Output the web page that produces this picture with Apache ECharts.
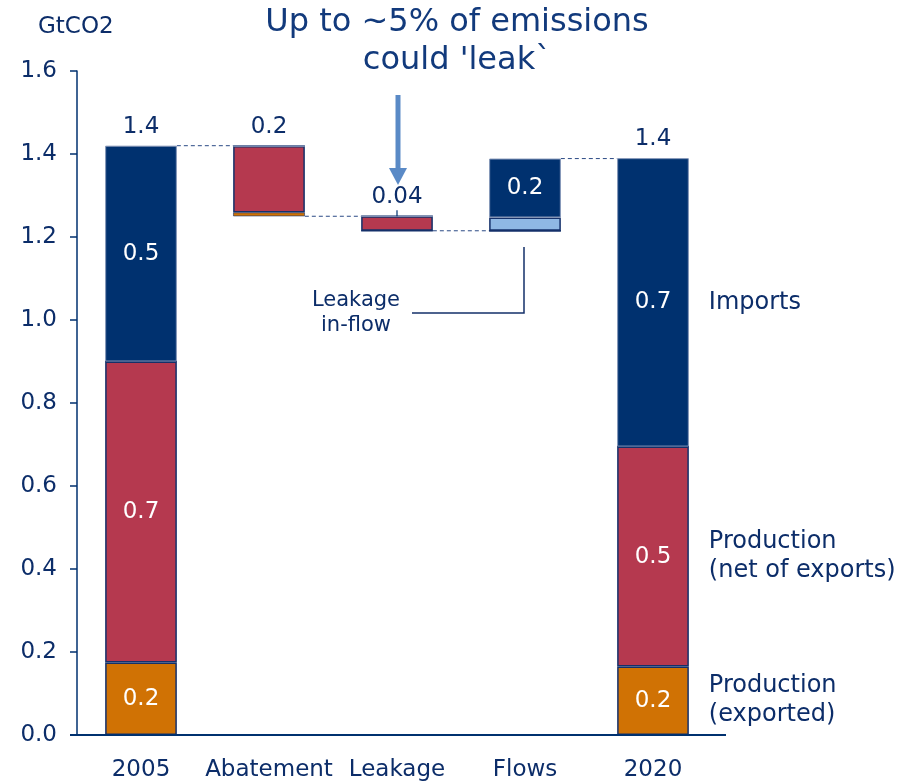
<!DOCTYPE html>
<html>
<head>
<meta charset="utf-8">
<script src="https://cdn.jsdelivr.net/npm/echarts@6/dist/echarts.min.js"></script>
<style>
  html, body { margin: 0; padding: 0; background: #ffffff; }
  #chart { width: 908px; height: 784px; }
</style>
</head>
<body>
<div id="chart"></div>
<script>
// Emissions bridge 2005 -> 2020, GtCO2
const categories = ['2005', 'Abatement', 'Leakage', 'Flows', '2020'];
const base       = [0,     1.25,  1.215, 1.215, 0];      // invisible floor of each step
const exported   = [0.175, 0.009, 0,     0,     0.165];  // Production (exported)
const netProd    = [0.725, 0.16,  0.035, 0,     0.53];   // Production (net of exports)
const inflow     = [0,     0,     0,     0.032, 0];      // Leakage in-flow
const imports    = [0.52,  0,     0,     0.142, 0.695];  // Imports
const segmentNames = ['Production\n(exported)', 'Production\n(net of exports)', 'Imports'];
const yTicks = [0, 0.2, 0.4, 0.6, 0.8, 1.0, 1.2, 1.4, 1.6];

const NAVY = '#00316f';
const TEXT = '#0c2d69';
const RED = '#b5394f';
const ORANGE = '#d07204';
const LIGHT = '#8fb8e4';
const FONT = '"DejaVu Sans", Verdana, sans-serif';
const BAR_RATIO = 0.56;

const totals = categories.map((_, i) => exported[i] + netProd[i] + inflow[i] + imports[i]);
const tops = categories.map((_, i) => base[i] + totals[i]);

// level carried from one step to the next
const connectors = [
  [0, tops[0]],
  [1, base[1]],
  [2, base[2]],
  [3, tops[3]]
];

// labels above bars: [index, y, amount, decimals]
const topLabels = [
  [0, tops[0], totals[0], 1],
  [1, tops[1], totals[1], 1],
  [2, tops[2], totals[2], 2],
  [4, tops[4], totals[4], 1]
];

// category labels at the right of the last bar: [index, mid value, name index]
const last = categories.length - 1;
const sideLabels = [
  [last, exported[last] / 2, 0],
  [last, exported[last] + netProd[last] / 2, 1],
  [last, exported[last] + netProd[last] + imports[last] / 2, 2]
];

const darkEdge = { color: '#14306a', width: 1.5 };
const lightEdge = { color: '#8193b6', width: 1 };

function segLabel(text) {
  return { show: true, position: 'inside', color: '#ffffff', fontSize: 23, fontFamily: FONT, formatter: text };
}

function segmentData(values, labelled) {
  return values.map((v, i) => {
    const item = { value: v };
    if (labelled && labelled[i] != null) item.label = segLabel(labelled[i]);
    return item;
  });
}

const exportedLabels = [exported[0].toFixed(1), null, null, null, exported[4].toFixed(1)];
const netLabels = [netProd[0].toFixed(1), null, null, null, netProd[4].toFixed(1)];
const importLabels = [imports[0].toFixed(1), null, null, (inflow[3] + imports[3]).toFixed(1), imports[4].toFixed(1)];

function stackSeries(name, values, color, border, labels) {
  const data = segmentData(values, labels);
  // very thin slices keep a hairline edge so their fill stays visible
  data.forEach(d => {
    if (d.value > 0 && d.value < 0.02) d.itemStyle = { borderWidth: 0.6 };
  });
  return {
    name: name,
    type: 'bar',
    stack: 'bridge',
    barWidth: (BAR_RATIO * 100) + '%',
    data: data,
    itemStyle: { color: color, borderColor: border.color, borderWidth: border.width },
    label: { show: false },
    emphasis: { disabled: true },
    z: 3
  };
}

const chart = echarts.init(document.getElementById('chart'), null, { renderer: 'canvas' });

chart.setOption({
  animation: false,
  backgroundColor: '#ffffff',
  grid: { left: 77, right: 191, top: 71, bottom: 49, containLabel: false },
  xAxis: {
    type: 'category',
    data: categories,
    axisLine: { show: false },
    axisTick: { show: false },
    axisLabel: { color: TEXT, fontSize: 23, fontFamily: FONT, margin: 24, interval: 0 }
  },
  yAxis: {
    type: 'value',
    min: 0,
    max: 1.6,
    interval: 0.2,
    splitLine: { show: false },
    axisLine: { show: true, lineStyle: { color: NAVY, width: 1.5 } },
    axisTick: { show: true, inside: false, length: 7, lineStyle: { color: NAVY, width: 1.5 } },
    axisLabel: {
      color: TEXT, fontSize: 23, fontFamily: FONT, margin: 20,
      formatter: v => yTicks.find(t => Math.abs(t - v) < 1e-9).toFixed(1)
    }
  },
  series: [
    {
      name: 'base',
      type: 'bar',
      stack: 'bridge',
      barWidth: (BAR_RATIO * 100) + '%',
      data: base,
      itemStyle: { color: 'transparent', borderWidth: 0 },
      emphasis: { disabled: true },
      silent: true
    },
    stackSeries('Production (exported)', exported, ORANGE, darkEdge, exportedLabels),
    stackSeries('Production (net of exports)', netProd, RED, darkEdge, netLabels),
    stackSeries('Leakage in-flow', inflow, LIGHT, darkEdge, [null, null, null, null, null]),
    stackSeries('Imports', imports, NAVY, lightEdge, importLabels),
    {
      name: 'connectors',
      type: 'custom',
      silent: true,
      z: 2,
      data: connectors,
      renderItem: function (params, api) {
        const i = api.value(0);
        const y = api.value(1);
        const a = api.coord([i, y]);
        const b = api.coord([i + 1, y]);
        const half = api.size([1, 0])[0] * BAR_RATIO / 2;
        return {
          type: 'line',
          shape: { x1: a[0] + half, y1: a[1], x2: b[0] - half, y2: b[1] },
          style: { stroke: '#2b4a85', lineWidth: 1, lineDash: [4, 3] }
        };
      }
    },
    {
      name: 'totals',
      type: 'custom',
      silent: true,
      z: 4,
      data: topLabels,
      renderItem: function (params, api) {
        const i = api.value(0);
        const p = api.coord([i, api.value(1)]);
        const text = api.value(2).toFixed(api.value(3));
        const children = [{
          type: 'text',
          style: {
            text: text, x: p[0], y: p[1] - 19, fill: TEXT,
            font: '23px ' + FONT, textAlign: 'center', textVerticalAlign: 'middle'
          }
        }];
        if (api.value(3) === 2) {
          children.push({
            type: 'line',
            shape: { x1: p[0], y1: p[1] - 6, x2: p[0], y2: p[1] },
            style: { stroke: NAVY, lineWidth: 1.2 }
          });
        }
        return { type: 'group', children: children };
      }
    },
    {
      name: 'segment names',
      type: 'custom',
      silent: true,
      z: 4,
      data: sideLabels,
      renderItem: function (params, api) {
        const i = api.value(0);
        const p = api.coord([i, api.value(1)]);
        const half = api.size([1, 0])[0] * BAR_RATIO / 2;
        return {
          type: 'text',
          style: {
            text: segmentNames[api.value(2)], x: p[0] + half + 20, y: p[1],
            fill: TEXT, font: '24px ' + FONT, textAlign: 'left', textVerticalAlign: 'middle',
            lineHeight: 29
          }
        };
      }
    }
  ],
  graphic: [
    // unit
    { type: 'text', left: 38, top: 16, style: { text: 'GtCO2', fill: TEXT, font: '23px ' + FONT } },
    // baseline
    { type: 'line', shape: { x1: 70, y1: 735, x2: 726, y2: 735 }, style: { stroke: NAVY, lineWidth: 2 }, z: 10 },
    // headline
    {
      type: 'text', x: 457, y: 42,
      style: {
        text: "Up to ~5% of emissions\ncould 'leak`", fill: '#123a7c',
        font: '32px ' + FONT, textAlign: 'center', textVerticalAlign: 'middle', lineHeight: 38
      }
    },
    // pointer to the leakage step
    { type: 'line', shape: { x1: 398, y1: 95, x2: 398, y2: 170 }, style: { stroke: '#5a8ac6', lineWidth: 5 } },
    { type: 'polygon', shape: { points: [[389, 168], [407, 168], [398, 185]] }, style: { fill: '#5a8ac6' } },
    // leakage in-flow callout
    {
      type: 'text', x: 356, y: 313,
      style: {
        text: 'Leakage\nin-flow', fill: TEXT, font: '21px ' + FONT,
        textAlign: 'center', textVerticalAlign: 'middle', lineHeight: 25
      }
    },
    {
      type: 'polyline',
      shape: { points: [[412, 313], [524, 313], [524, 247]] },
      style: { stroke: '#14306a', lineWidth: 1.5, fill: null }
    }
  ]
});
</script>
</body>
</html>
